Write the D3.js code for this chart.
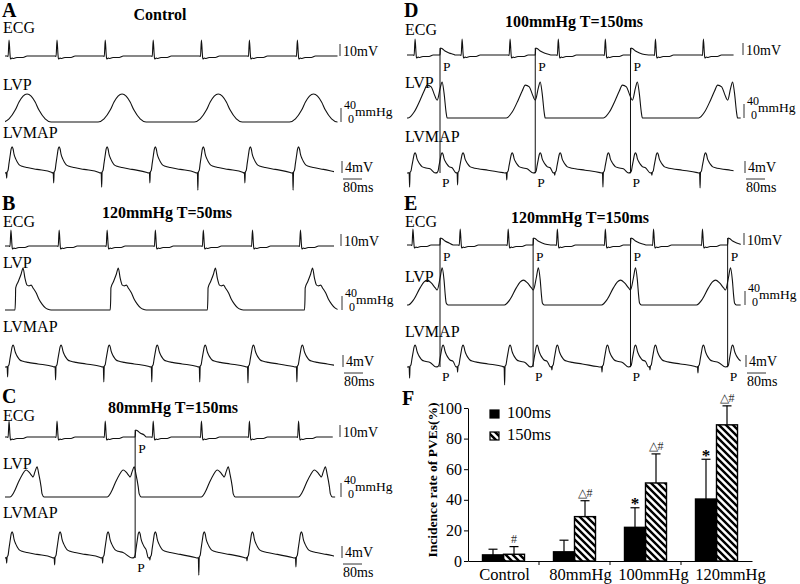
<!DOCTYPE html>
<meta charset="utf-8">
<style>
body { margin: 0; background: #fff; }
svg { display: block; font-family: "Liberation Serif", "Times New Roman", serif; }
</style>
<svg width="800" height="584"></svg>
<script src="https://d3js.org/d3.v7.min.js"></script>
<script>

var serif = "Liberation Serif, Times New Roman, serif";

// beat times in ms from the start of each trace
var ecgA = [17, 219, 422, 624, 827, 1029, 1231],
    ecgB = [25, 228, 430, 633, 835, 1042, 1244],
    ecgC = [17, 219, 422, 624, 827, 1029, 1236],
    ecgD = [34, 232, 434, 637, 835, 1046, 1248],
    ecgE = [25, 224, 426, 633, 835, 1038, 1244];

// pacing stimuli (P)
var paceA = [], paceB = [],
    paceC = [548],
    paceD = [139, 540, 941],
    paceE = [139, 531, 941, 1350];

// LVP peaks
var lvpA = [93, 493, 898, 1299],
    lvpB = [76, 477, 886, 1295],
    lvpC = [135, 544, 940, 1349],
    lvpD = [148, 561, 970, 1371],
    lvpE = [148, 553, 962, 1362];

// LVMAP upstroke peaks and depth of the spike before each (mV)
var mapA = [30, 228, 430, 633, 835, 1033, 1236],
    dipA = [1.7, 3.3, 4.7, 3.3, 5.7, 3.3, 5.7],
    mapB = [34, 236, 439, 641, 843, 1046, 1252],
    dipB = [3.3, 4.3, 5, 5, 5, 5.3, 5],
    mapC = [30, 232, 434, 565, 633, 839, 1042, 1248],
    dipC = [1.7, 2.3, 1.7, 0, 0.7, 5.7, 1, 3],
    mapD = [34, 148, 236, 443, 561, 645, 848, 962, 1054, 1257],
    dipD = [4.7, 0, 4, 2.3, 0, 0.7, 4.7, 0, 0.7, 5],
    mapE = [34, 152, 236, 434, 548, 633, 844, 962, 1046, 1248, 1371],
    dipE = [3.7, 0, 1.7, 6, 0, 1, 1.7, 0, 1, 2, 0];
var mapPeak = [8.7, 7.3, 8.7, 6.7, 7.3];

// single beat shapes: [ms from marker, value]
var ecgBeat = [[-29, 0], [-8, 0], [-4, -0.4], [0, 13.3], [4, 1.7], [6, -2.5], [13, -1.7], [17, -2.1], [25, -1.7], [34, -1.2], [59, -1.2], [76, 0]],
    ecgPaced = [[0, 0], [2, 5.8], [8, 5.4], [21, 3.3], [38, 1.7], [59, 0.4], [76, 0]];
var lvpBell = [[-101, 0], [-76, 9], [-50, 34], [-34, 57], [-17, 74], [0, 80], [17, 74], [34, 57], [50, 34], [76, 9], [101, 0]],
    lvpSharp = [[-34, 0], [-32, 29], [-31, 63], [-21, 80], [-8, 103], [0, 120], [8, 91], [17, 71], [25, 69], [34, 71], [42, 63], [55, 49], [67, 31], [80, 17], [93, 7], [105, 2], [118, 0]],
    lvpNotchC = [[-114, 0], [-97, 14], [-80, 40], [-63, 63], [-46, 77], [-34, 71], [-21, 60], [-17, 57], [-8, 74], [0, 86], [8, 63], [17, 29], [21, 9], [30, 0]],
    lvpNotchD = [[-143, 0], [-118, 17], [-93, 51], [-76, 77], [-63, 94], [-46, 89], [-34, 69], [-21, 51], [-8, 86], [0, 103], [8, 71], [17, 14], [21, 0]],
    lvpNotchE = [[-143, 0], [-118, 17], [-93, 49], [-76, 66], [-63, 71], [-46, 63], [-29, 49], [-21, 43], [-8, 80], [0, 106], [8, 71], [13, 29], [17, 6], [25, 0]];
// LVMAP beat, normalised to its peak; the point flagged with a third field is the spike
var mapBeat = [[-29, 0], [-25, 0.02], [-23, -1, 1], [-21, 0.03], [-17, 0.11], [-13, 0.38], [-8, 0.69], [-4, 0.92], [0, 1], [4, 0.92], [8, 0.72], [15, 0.54], [21, 0.43], [29, 0.32], [42, 0.26], [63, 0.21], [105, 0.14], [168, 0.02], [181, 0]];

var ids = ["A", "B", "C", "D", "E"],
    titles = ["Control", "120mmHg T=50ms", "80mmHg T=150ms", "100mmHg T=150ms", "120mmHg T=150ms"];

// panel F
var cats = ["Control", "80mmHg", "100mmHg", "120mmHg"],
    groups = ["100ms", "150ms"],
    mean100 = [4, 6, 22, 40.5],
    sd100 = [3.7, 7.6, 12.8, 26],
    mean150 = [4.4, 29, 51, 89],
    sd150 = [5, 10.4, 19, 12.4],
    mark100 = ["", "", "*", "*"],
    mark150 = ["#", "\u25b3#", "\u25b3#", "\u25b3#"],
    yTicks = [0, 20, 40, 60, 80, 100];

var panels = ids.map(function(id, i) {
  return {
    id: id, title: titles[i],
    ecg: [ecgA, ecgB, ecgC, ecgD, ecgE][i],
    pace: [paceA, paceB, paceC, paceD, paceE][i],
    lvp: [lvpA, lvpB, lvpC, lvpD, lvpE][i],
    lvpShape: [lvpBell, lvpSharp, lvpNotchC, lvpNotchD, lvpNotchE][i],
    map: [mapA, mapB, mapC, mapD, mapE][i],
    dip: [dipA, dipB, dipC, dipD, dipE][i],
    peak: mapPeak[i]
  };
});

// where each panel sits
var layout = [
  {x0: 5,   ends: [1400, 1400, 1385], letterY: 17,  titleX: 160, titleY: 20,  ecg: [33, 56],   lvp: [90, 122],  map: [138, 173], barX: 340},
  {x0: 5,   ends: [1385, 1400, 1385], letterY: 210, titleX: 167, titleY: 218, ecg: [227, 246], lvp: [268, 310], map: [332, 367], barX: 341},
  {x0: 5,   ends: [1380, 1390, 1385], letterY: 403, titleX: 173, titleY: 413, ecg: [421, 437], lvp: [469, 497], map: [518, 558], barX: 340},
  {x0: 407, ends: [1375, 1405, 1375], letterY: 17,  titleX: 574, titleY: 27,  ecg: [35, 55],   lvp: [88, 118],  map: [142, 173], barX: 743},
  {x0: 407, ends: [1405, 1405, 1405], letterY: 210, titleX: 580, titleY: 223, ecg: [227, 245], lvp: [282, 305], map: [337, 367], barX: 744}
];

var svg = d3.select("svg");
svg.append("rect").attr("width", 800).attr("height", 584).attr("fill", "#fff");
var defs = svg.append("defs");

function buildTrace(events, lo, hi) {
  events.sort(function(a, b) { return a.t - b.t; });
  var pts = [[lo - 500, 0]];
  events.forEach(function(e, i) {
    var next = i + 1 < events.length ? events[i + 1].t + events[i + 1].shape[0][0] : Infinity;
    e.shape.forEach(function(p) {
      var t = e.t + p[0];
      if (t >= next) return;
      pts.push([t, p.length > 2 ? p[1] * e.dip : p[1] * e.amp]);
    });
  });
  pts.push([hi + 500, 0]);
  return pts;
}

var clipN = 0;
function drawTrace(pts, x, y, lo, hi) {
  var id = "clip" + (clipN++);
  defs.append("clipPath").attr("id", id)
    .append("rect")
      .attr("x", x(lo)).attr("y", 0)
      .attr("width", x(hi) - x(lo)).attr("height", 584);
  svg.append("path")
      .datum(pts)
      .attr("clip-path", "url(#" + id + ")")
      .attr("fill", "none")
      .attr("stroke", "#111")
      .attr("stroke-width", 1.1)
      .attr("stroke-linejoin", "round")
      .attr("d", d3.line().curve(d3.curveMonotoneX).x(function(d) { return x(d[0]); }).y(function(d) { return y(d[1]); }));
}

function text(x, y, s, size, weight, anchor) {
  return svg.append("text")
      .attr("x", x).attr("y", y)
      .attr("font-family", serif)
      .attr("font-size", size)
      .attr("font-weight", weight || "normal")
      .attr("text-anchor", anchor || "start")
      .attr("fill", "#000")
      .text(s);
}

panels.forEach(function(p, i) {
  var L = layout[i];
  var x = d3.scaleLinear().domain([0, 1400]).range([L.x0, L.x0 + 332.5]),
      yE = d3.scaleLinear().domain([0, 10]).range([L.ecg[1], L.ecg[1] - 12]),
      yP = d3.scaleLinear().domain([0, 40]).range([L.lvp[1], L.lvp[1] - 14]),
      yM = d3.scaleLinear().domain([0, 4]).range([L.map[1], L.map[1] - 12]);

  text(L.x0 - 3, L.letterY, p.id, 20, "bold");
  text(L.titleX, L.titleY, p.title, 16, "bold", "middle");
  text(L.x0 - 2, L.ecg[0], "ECG", 16);
  text(L.x0 - 2, L.lvp[0], "LVP", 16);
  text(L.x0 - 2, L.map[0], "LVMAP", 16);

  var ecgEv = p.ecg.map(function(t) { return {t: t, shape: ecgBeat, amp: 1}; })
      .concat(p.pace.map(function(t) { return {t: t, shape: ecgPaced, amp: 1}; }));
  drawTrace(buildTrace(ecgEv, 0, L.ends[0]), x, yE, 0, L.ends[0]);

  var lvpEv = p.lvp.map(function(t) { return {t: t, shape: p.lvpShape, amp: 1}; });
  drawTrace(buildTrace(lvpEv, 0, L.ends[1]), x, yP, 0, L.ends[1]);

  var mapEv = p.map.map(function(t, j) { return {t: t, shape: mapBeat, amp: p.peak, dip: p.dip[j]}; });
  drawTrace(buildTrace(mapEv, 0, L.ends[2]), x, yM, 0, L.ends[2]);

  // pacing markers
  p.pace.forEach(function(t) {
    svg.append("line")
        .attr("x1", x(t)).attr("x2", x(t))
        .attr("y1", yE(0) - 7).attr("y2", yM(0))
        .attr("stroke", "#111").attr("stroke-width", 1);
    text(x(t) + 3, yE(0) + 16, "P", 13.5);
    text(x(t) + 2, yM(0) + 14, "P", 13.5);
  });

  // calibration bars
  var bx = L.barX;
  svg.append("line").attr("x1", bx).attr("x2", bx).attr("y1", yE(0)).attr("y2", yE(10)).attr("stroke", "#333");
  text(bx + 3, yE(0), "10mV", 14);
  svg.append("line").attr("x1", bx + 1).attr("x2", bx + 1).attr("y1", yP(0)).attr("y2", yP(40)).attr("stroke", "#333");
  text(bx + 4, yP(40) + 1, "40", 12);
  text(bx + 8, yP(0) + 1, "0", 12);
  text(bx + 15, (yP(0) + yP(40)) / 2 + 1, "mmHg", 13.5);
  svg.append("line").attr("x1", bx + 2).attr("x2", bx + 2).attr("y1", yM(0)).attr("y2", yM(4)).attr("stroke", "#333");
  text(bx + 5, yM(0) - 1, "4mV", 14);
  svg.append("line")
      .attr("x1", bx + 3).attr("x2", bx + 3 + x(80) - x(0))
      .attr("y1", yM(0) + 6).attr("y2", yM(0) + 6)
      .attr("stroke", "#333");
  text(bx + 3, yM(0) + 19, "80ms", 14);
});

// ---- panel F ----
defs.append("pattern")
    .attr("id", "hatch")
    .attr("patternUnits", "userSpaceOnUse")
    .attr("width", 7).attr("height", 7)
  .append("path")
    .attr("d", "M0,0L7,7M-1,6L1,8M6,-1L8,1")
    .attr("stroke", "#000")
    .attr("stroke-width", 2.4);

var y = d3.scaleLinear().domain([0, 100]).range([561, 408]),
    x0 = d3.scaleBand().domain(cats).range([468, 752]),
    x1 = d3.scaleBand().domain(groups).range([0, x0.bandwidth()]).paddingOuter(0.69);

text(402, 405, "F", 20, "bold");

svg.append("text")
    .attr("transform", "translate(437,480) rotate(-90)")
    .attr("text-anchor", "middle")
    .attr("font-family", serif)
    .attr("font-size", 13.5)
    .attr("font-weight", "bold")
    .text("Incidence rate of PVEs(%)");

var gy = svg.append("g")
    .attr("transform", "translate(468,0)")
    .call(d3.axisLeft(y).tickValues(yTicks).tickSize(4).tickSizeOuter(0).tickPadding(2));
gy.attr("font-family", serif).attr("font-size", 16);
gy.selectAll("text").attr("fill", "#000").attr("font-family", serif);
gy.selectAll("line, path").attr("stroke", "#000");

var labelShift = [1, 6, 8, 14];
var gx = svg.append("g")
    .attr("transform", "translate(0,561)")
    .call(d3.axisBottom(x0).tickSize(0).tickPadding(7));
gx.attr("font-family", serif).attr("font-size", 16.5);
gx.selectAll("text").attr("fill", "#000").attr("font-family", serif)
    .attr("x", function(d, i) { return labelShift[i]; });
gx.select("path").attr("stroke", "#000");
cats.slice(1).forEach(function(c) {
  svg.append("line").attr("x1", x0(c)).attr("x2", x0(c)).attr("y1", 561).attr("y2", 565).attr("stroke", "#000");
});

var series = [
  {key: "100ms", mean: mean100, sd: sd100, mark: mark100, fill: "#000"},
  {key: "150ms", mean: mean150, sd: sd150, mark: mark150, fill: "url(#hatch)"}
];

series.forEach(function(s) {
  cats.forEach(function(c, i) {
    var bx = x0(c) + x1(s.key), w = x1.bandwidth(), cx = bx + w / 2,
        top = y(s.mean[i]), etop = y(s.mean[i] + s.sd[i]);
    svg.append("line").attr("x1", cx).attr("x2", cx).attr("y1", top).attr("y2", etop).attr("stroke", "#000").attr("stroke-width", 1.2);
    svg.append("line").attr("x1", cx - 4.5).attr("x2", cx + 4.5).attr("y1", etop).attr("y2", etop).attr("stroke", "#000").attr("stroke-width", 1.2);
    svg.append("rect")
        .attr("x", bx).attr("y", top)
        .attr("width", w).attr("height", y(0) - top)
        .attr("fill", s.fill)
        .attr("stroke", "#000").attr("stroke-width", 1.4);
    if (s.mark[i] === "*") {
      text(cx, etop + 1.5, "*", 17, "bold", "middle");
    } else if (s.mark[i]) {
      text(cx, etop - 4, s.mark[i], 12, "normal", "middle").attr("fill", "#333");
    }
  });
});

// legend
series.forEach(function(s, i) {
  svg.append("rect")
      .attr("x", 490).attr("y", 410 + i * 22)
      .attr("width", 9).attr("height", 8)
      .attr("fill", s.fill).attr("stroke", "#000").attr("stroke-width", 1.2);
  text(507, 418 + i * 22, s.key, 16.5);
});

</script>
